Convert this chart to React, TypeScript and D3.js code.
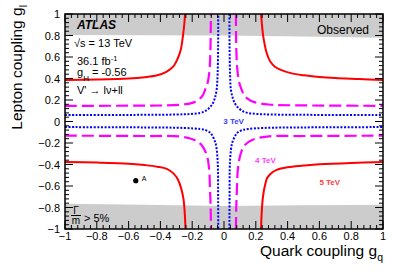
import * as d3 from "d3";
import React from "react";

const W = 403;
const H = 273;
const margin = { top: 14, right: 20, bottom: 44, left: 65 };

type Pt = [number, number]; // [gq, gl]

// 3 TeV contour (blue, dotted)
const tev3UpperLeft: Pt[] = [[-1, 0.06], [-0.5, 0.062], [-0.3, 0.065], [-0.21, 0.07], [-0.15, 0.08], [-0.12, 0.095], [-0.09, 0.13], [-0.07, 0.17], [-0.057, 0.22], [-0.046, 0.3], [-0.04, 0.45], [-0.037, 0.7], [-0.036, 1.0]];
const tev3UpperRight: Pt[] = [[0.034, 1.0], [0.035, 0.7], [0.038, 0.45], [0.043, 0.3], [0.055, 0.22], [0.068, 0.17], [0.088, 0.13], [0.12, 0.095], [0.15, 0.08], [0.21, 0.07], [0.3, 0.065], [0.5, 0.062], [1, 0.06]];
const tev3LowerLeft: Pt[] = [[-1, -0.052], [-0.5, -0.055], [-0.25, -0.06], [-0.15, -0.07], [-0.117, -0.08], [-0.09, -0.1], [-0.075, -0.126], [-0.058, -0.18], [-0.05, -0.22], [-0.042, -0.32], [-0.038, -0.45], [-0.037, -0.7], [-0.036, -1.0]];
const tev3LowerRight: Pt[] = [[0.034, -1.0], [0.035, -0.7], [0.036, -0.45], [0.04, -0.32], [0.048, -0.22], [0.056, -0.18], [0.073, -0.126], [0.088, -0.1], [0.115, -0.08], [0.15, -0.07], [0.25, -0.06], [0.5, -0.055], [1, -0.052]];

// 4 TeV contour (magenta, dashed)
const tev4UpperLeft: Pt[] = [[-1, 0.146], [-0.5, 0.148], [-0.28, 0.155], [-0.19, 0.178], [-0.14, 0.23], [-0.115, 0.31], [-0.1, 0.38], [-0.09, 0.5], [-0.085, 0.7], [-0.082, 1.0]];
const tev4UpperRight: Pt[] = [[0.075, 1.0], [0.077, 0.7], [0.083, 0.5], [0.093, 0.38], [0.107, 0.31], [0.125, 0.25], [0.15, 0.21], [0.19, 0.18], [0.28, 0.158], [0.5, 0.15], [1, 0.146]];
const tev4LowerLeft: Pt[] = [[-1, -0.132], [-0.5, -0.135], [-0.277, -0.14], [-0.19, -0.17], [-0.14, -0.22], [-0.109, -0.31], [-0.094, -0.435], [-0.088, -0.637], [-0.084, -0.8], [-0.082, -1.0]];
const tev4LowerRight: Pt[] = [[0.075, -1.0], [0.077, -0.8], [0.081, -0.637], [0.088, -0.435], [0.105, -0.3], [0.13, -0.22], [0.18, -0.17], [0.27, -0.14], [0.5, -0.135], [1, -0.132]];

// 5 TeV contour (red, solid)
const tev5UpperLeft: Pt[] = [[-1, 0.385], [-0.8, 0.39], [-0.6, 0.4], [-0.5, 0.412], [-0.42, 0.43], [-0.36, 0.465], [-0.32, 0.51], [-0.29, 0.59], [-0.27, 0.68], [-0.258, 0.8], [-0.25, 0.9], [-0.245, 1.0]];
const tev5UpperRight: Pt[] = [[0.233, 1.0], [0.24, 0.88], [0.247, 0.79], [0.27, 0.63], [0.29, 0.56], [0.32, 0.51], [0.35, 0.485], [0.42, 0.45], [0.5, 0.43], [0.6, 0.415], [0.7, 0.405], [0.85, 0.395], [1, 0.385]];
const tev5LowerLeft: Pt[] = [[-1, -0.377], [-0.8, -0.382], [-0.6, -0.392], [-0.5, -0.405], [-0.42, -0.42], [-0.36, -0.44], [-0.32, -0.48], [-0.29, -0.54], [-0.27, -0.62], [-0.255, -0.72], [-0.247, -0.85], [-0.242, -1.0]];
const tev5LowerRight: Pt[] = [[0.233, -1.0], [0.237, -0.85], [0.245, -0.7], [0.26, -0.58], [0.27, -0.53], [0.29, -0.49], [0.331, -0.45], [0.4, -0.425], [0.5, -0.41], [0.6, -0.398], [0.8, -0.385], [1, -0.377]];

// Γ/m > 5% excluded bands (edge of grey region)
const widthTopEdge: Pt[] = [[-1, 0.805], [-0.5, 0.802], [0, 0.8], [0.5, 0.79], [1, 0.78]];
const widthBottomEdge: Pt[] = [[-1, -0.765], [-0.5, -0.775], [0, -0.785], [0.5, -0.78], [1, -0.775]];

const benchmarkA: Pt = [-0.555, -0.55];

const contourLabels = ["3 TeV", "4 TeV", "5 TeV"];
const labelColors = ["#3c3cff", "#ff3cff", "#ff3c3c"];
const labelPos: Pt[] = [[-0.005, -0.02], [0.195, -0.39], [0.6, -0.59]];

const font = "'Liberation Sans', Arial, Helvetica, sans-serif";

export default function App() {
  const x = d3.scaleLinear().domain([-1, 1]).range([margin.left, W - margin.right]);
  const y = d3.scaleLinear().domain([-1, 1]).range([H - margin.bottom, margin.top]);

  const line = d3.line<Pt>().x((d) => x(d[0])).y((d) => y(d[1])).curve(d3.curveCatmullRom.alpha(0.5));

  const topBand = d3.area<Pt>().x((d) => x(d[0])).y0(y(1)).y1((d) => y(d[1]))(widthTopEdge) ?? "";
  const bottomBand = d3.area<Pt>().x((d) => x(d[0])).y0(y(-1)).y1((d) => y(d[1]))(widthBottomEdge) ?? "";

  const majors = d3.ticks(-1, 1, 10);
  const minors = d3.range(-1, 1.0001, 0.04);
  const fmt = d3.format("~g");

  const x0 = x(-1), x1 = x(1), y0 = y(-1), y1 = y(1);
  const maj = 8, mnr = 4;

  const contours = [
    { branches: [tev3UpperLeft, tev3UpperRight, tev3LowerLeft, tev3LowerRight], color: "#0000ff", dash: "2,1.6", w: 2 },
    { branches: [tev4UpperLeft, tev4UpperRight, tev4LowerLeft, tev4LowerRight], color: "#ff00ff", dash: "12,5", w: 2.2 },
    { branches: [tev5UpperLeft, tev5UpperRight, tev5LowerLeft, tev5LowerRight], color: "#ff0000", dash: undefined, w: 2 },
  ];

  return (
    <svg width={W} height={H} style={{ position: "absolute", left: 0, top: 0, background: "#fff" }} fontFamily={font}>
      <defs>
        <clipPath id="plot">
          <rect x={x0} y={y1} width={x1 - x0} height={y0 - y1} />
        </clipPath>
      </defs>

      <g clipPath="url(#plot)">
        <path d={topBand} fill="#cccccc" />
        <path d={bottomBand} fill="#cccccc" />
        {contours.map((c, i) =>
          c.branches.map((b, j) => (
            <path key={`${i}-${j}`} d={line(b) ?? ""} fill="none" stroke={c.color} strokeWidth={c.w} strokeDasharray={c.dash} />
          ))
        )}
      </g>

      {/* ticks, all inward */}
      <g stroke="#000" strokeWidth={1}>
        {minors.map((v, i) => {
          const isMaj = Math.abs(Math.round(v * 5) - v * 5) < 1e-6;
          const len = isMaj ? maj : mnr;
          return (
            <g key={i}>
              <line x1={x(v)} x2={x(v)} y1={y0} y2={y0 - len} />
              <line x1={x(v)} x2={x(v)} y1={y1} y2={y1 + len} />
              <line x1={x0} x2={x0 + len} y1={y(v)} y2={y(v)} />
              <line x1={x1} x2={x1 - len} y1={y(v)} y2={y(v)} />
            </g>
          );
        })}
      </g>
      <rect x={x0} y={y1} width={x1 - x0} height={y0 - y1} fill="none" stroke="#000" strokeWidth={1.5} />

      {/* tick labels */}
      <g fontSize={11} fill="#000">
        {majors.map((v) => (
          <text key={`x${v}`} x={x(v)} y={y0 + 11} textAnchor="middle">{fmt(v)}</text>
        ))}
        {majors.map((v) => (
          <text key={`y${v}`} x={x0 - 5} y={y(v) + 4} textAnchor="end">{fmt(v)}</text>
        ))}
      </g>

      {/* axis titles */}
      <text x={x1} y={256} textAnchor="end" fontSize={15.5}>
        Quark coupling g<tspan dy={5} fontSize={10.5}>q</tspan>
      </text>
      <text transform="translate(22, 5) rotate(-90)" textAnchor="end" fontSize={15.5}>
        Lepton coupling g<tspan dy={5} fontSize={10.5}>l</tspan>
      </text>

      {/* annotations */}
      <text x={77} y={28.5} fontSize={12} fontWeight="bold" fontStyle="italic">ATLAS</text>
      <text x={317} y={33.5} fontSize={12}>Observed</text>
      <text x={74} y={46.5} fontSize={11}>√s = 13 TeV</text>
      <text x={77} y={64.5} fontSize={11}>
        36.1 fb<tspan dy={-4} fontSize={7.5}>-1</tspan>
      </text>
      <text x={77} y={76} fontSize={11}>
        g<tspan dy={5} fontSize={8}>H</tspan><tspan dy={-5}> = -0.56</tspan>
      </text>
      <text x={77} y={93.5} fontSize={11}>V' → lν+ll</text>

      <text x={76} y={214} fontSize={10} textAnchor="middle">Γ</text>
      <line x1={71} x2={81} y1={215.5} y2={215.5} stroke="#000" strokeWidth={1} />
      <text x={76} y={223.5} fontSize={10} textAnchor="middle">m</text>
      <text x={84} y={222} fontSize={11}>&gt; 5%</text>

      {contourLabels.map((t, i) => (
        <text key={t} x={x(labelPos[i][0])} y={y(labelPos[i][1])} fontSize={8} fontWeight="bold" fill={labelColors[i]}>
          {t}
        </text>
      ))}

      <circle cx={x(benchmarkA[0])} cy={y(benchmarkA[1])} r={2.6} fill="#000" />
      <text x={x(benchmarkA[0]) + 6} y={y(benchmarkA[1]) + 0.5} fontSize={7}>A</text>
    </svg>
  );
}
